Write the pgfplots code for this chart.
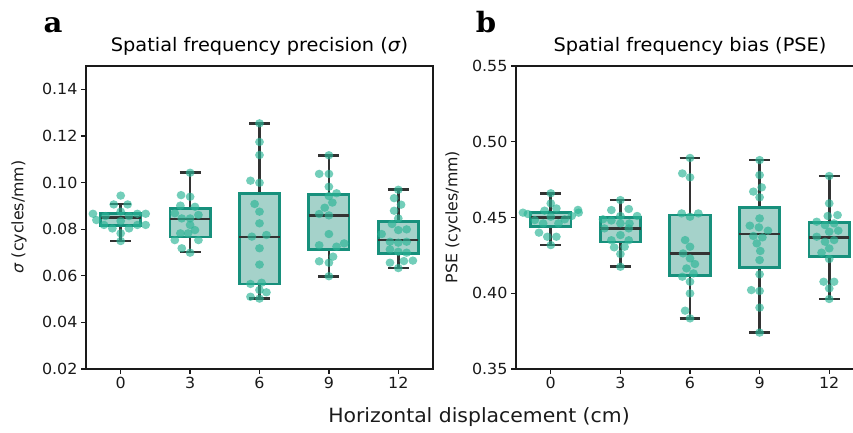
\documentclass[border=0pt]{standalone}
\usepackage{fontspec}
\setmainfont{DejaVu Sans}[FakeStretch=1.04]
\newfontfamily\ylabfont{DejaVu Sans}
\newfontfamily\panelfont{DejaVu Serif}[FakeStretch=1.04]
\usepackage{pgfplots}
\pgfplotsset{compat=1.18}
\usepgfplotslibrary{statistics}
\definecolor{boxedge}{HTML}{17907C}
\definecolor{boxfill}{HTML}{A5D2CA}
\definecolor{ptc}{HTML}{2BB596}
\definecolor{wcol}{HTML}{333333}
\definecolor{axc}{HTML}{1A1A1A}
\newcommand\tickfont{\fontsize{15.3}{17}\selectfont}
\newcommand\titlefont{\fontsize{18.6}{21}\selectfont}
\pgfplotsset{
  boxplot/draw direction=y,
  boxplot/every box/.style={draw=boxedge, fill=boxfill, line width=2.7pt},
  boxplot/every whisker/.style={draw=wcol, line width=2.7pt},
  boxplot/every median/.style={draw=wcol, line width=2.7pt},
  myaxis/.style={
    scale only axis, anchor=south west,
    height=303pt,
    xmin=-0.5, xmax=4.5,
    xtick={0,1,2,3,4}, xticklabels={0,3,6,9,12},
    tick align=outside, tick pos=left, major tick length=5pt,
    axis line style={line width=1.25pt, axc},
    every tick/.style={line width=1.25pt, axc},
    ticklabel style={font=\tickfont, text=axc},
    title style={font=\titlefont, at={(0.5,1)}, anchor=base, yshift=8pt},
    clip=false,
  },
  pts/.style={only marks, mark=*, mark size=4.2pt, color=ptc,
    fill opacity=0.66, draw opacity=0,
    mark options={draw=ptc, fill=ptc, fill opacity=0.66, draw opacity=0, xscale=1.05}},
}
\begin{document}
\begin{tikzpicture}
% ---------------- panel a ----------------
\begin{axis}[myaxis, at={(86pt,64pt)}, width=347pt,
  ymin=0.02, ymax=0.15,
  ytick={0.02,0.04,0.06,0.08,0.10,0.12,0.14},
  yticklabels={0.02,0.04,0.06,0.08,0.10,0.12,0.14},
  title={Spatial frequency precision (\textit{σ})}]
\addplot[boxplot prepared={draw position=0, lower whisker=0.0749, lower quartile=0.0815, median=0.0849, upper quartile=0.0868, upper whisker=0.0908, box extend=0.58, whisker extend=0.3}] coordinates {};
\addplot[boxplot prepared={draw position=1, lower whisker=0.0702, lower quartile=0.0766, median=0.0844, upper quartile=0.0889, upper whisker=0.1042, box extend=0.58, whisker extend=0.3}] coordinates {};
\addplot[boxplot prepared={draw position=2, lower whisker=0.0502, lower quartile=0.0565, median=0.0766, upper quartile=0.0954, upper whisker=0.1254, box extend=0.58, whisker extend=0.3}] coordinates {};
\addplot[boxplot prepared={draw position=3, lower whisker=0.0598, lower quartile=0.0712, median=0.0859, upper quartile=0.0949, upper whisker=0.1117, box extend=0.58, whisker extend=0.3}] coordinates {};
\addplot[boxplot prepared={draw position=4, lower whisker=0.0633, lower quartile=0.0696, median=0.0753, upper quartile=0.0833, upper whisker=0.0969, box extend=0.58, whisker extend=0.3}] coordinates {};
\addplot[pts] table {
x y
-0.40 0.0866
0 0.0944
-0.10 0.0906
0.10 0.0906
-0.35 0.0839
-0.24 0.0818
-0.12 0.0803
0 0.0835
0.12 0.0803
0.24 0.0818
0.36 0.0818
0.36 0.0866
0.24 0.0866
0 0.0782
0 0.0749
-0.22 0.0856
0.12 0.0856
0 0.0875
1 0.1042
0.87 0.0946
1 0.0939
0.86 0.0901
1.07 0.0896
1 0.0846
1.12 0.0861
0.78 0.0868
0.88 0.0846
1.07 0.0796
0.97 0.0782
0.86 0.0782
0.78 0.0753
1.12 0.0753
0.88 0.0718
1 0.0699
1 0.0818
2 0.1254
2 0.1174
2 0.1118
1.87 0.1008
2 0.0999
1.93 0.0908
2 0.0875
2 0.0825
2.10 0.0775
1.89 0.0768
2 0.0718
2 0.0648
1.87 0.0565
2.03 0.0570
2.10 0.0529
2 0.0502
1.87 0.0510
2 0.0539
3 0.1117
2.86 0.1037
3 0.1037
3 0.0982
3.11 0.0954
3 0.0942
3.05 0.0914
2.94 0.0892
2.86 0.0865
3 0.0859
3 0.0779
2.86 0.0731
3.11 0.0725
3.22 0.0739
3.06 0.0682
2.86 0.0662
3 0.0656
3 0.0598
4 0.0969
3.94 0.0933
4.04 0.0905
3.94 0.0879
4 0.0846
3.91 0.0822
4.12 0.0799
4 0.0796
3.76 0.0779
3.88 0.0746
4 0.0742
4.12 0.0746
3.88 0.0713
4 0.0703
4.12 0.0699
3.88 0.0656
4.08 0.0663
4.21 0.0665
4 0.0633
};
\end{axis}
% ---------------- panel b ----------------
\begin{axis}[myaxis, at={(516pt,64pt)}, width=348pt,
  ymin=0.35, ymax=0.55,
  ytick={0.35,0.40,0.45,0.50,0.55},
  yticklabels={0.35,0.40,0.45,0.50,0.55},
  title={Spatial frequency bias (PSE)}]
\addplot[boxplot prepared={draw position=0, lower whisker=0.4318, lower quartile=0.4439, median=0.4501, upper quartile=0.4534, upper whisker=0.4659, box extend=0.58, whisker extend=0.3}] coordinates {};
\addplot[boxplot prepared={draw position=1, lower whisker=0.4175, lower quartile=0.4338, median=0.4428, upper quartile=0.4501, upper whisker=0.4615, box extend=0.58, whisker extend=0.3}] coordinates {};
\addplot[boxplot prepared={draw position=2, lower whisker=0.3834, lower quartile=0.4116, median=0.4263, upper quartile=0.4516, upper whisker=0.4893, box extend=0.58, whisker extend=0.3}] coordinates {};
\addplot[boxplot prepared={draw position=3, lower whisker=0.3740, lower quartile=0.4171, median=0.4391, upper quartile=0.4565, upper whisker=0.4879, box extend=0.58, whisker extend=0.3}] coordinates {};
\addplot[boxplot prepared={draw position=4, lower whisker=0.3962, lower quartile=0.4241, median=0.4369, upper quartile=0.4468, upper whisker=0.4774, box extend=0.58, whisker extend=0.3}] coordinates {};
\addplot[pts] table {
x y
0 0.466
-0.40 0.4532
-0.33 0.4523
0 0.4593
0.08 0.456
0.39 0.455
0.40 0.4532
0.30 0.451
0.20 0.4488
0.11 0.4461
-0.17 0.440
-0.05 0.4373
0.08 0.4373
0 0.4318
-0.23 0.4483
-0.11 0.4461
0 0.4505
-0.09 0.4545
1 0.4615
0.87 0.4549
1.12 0.4556
0.75 0.4488
0.87 0.448
1 0.451
1.24 0.451
1.13 0.4461
1 0.4461
1 0.4384
0.87 0.435
1.12 0.435
0.91 0.4303
1.06 0.4307
1 0.4259
1 0.4175
0.77 0.4428
1.12 0.4428
2 0.4893
1.89 0.4791
2 0.4765
1.88 0.4527
2 0.4505
2.12 0.4527
1.93 0.4351
2 0.4307
1.90 0.4263
2 0.423
2.07 0.4193
1.95 0.4164
2.05 0.4131
1.89 0.4109
2 0.4076
2 0.3999
1.93 0.3885
2 0.3834
3 0.4879
3 0.478
3.03 0.4699
2.91 0.4671
3 0.4633
3 0.4494
2.86 0.4446
2.99 0.4435
3.12 0.4413
2.91 0.4378
3.04 0.4369
2.96 0.4329
3.01 0.4279
3 0.4219
3 0.4125
2.88 0.4021
3 0.4015
3 0.3905
3 0.374
4 0.4774
4 0.4593
3.98 0.451
4.12 0.4516
3.82 0.4472
3.94 0.445
4.07 0.4461
4 0.4406
3.82 0.4373
4.13 0.4413
3.94 0.434
4.07 0.4351
4 0.4296
3.89 0.4268
4 0.4226
3.92 0.4076
4.07 0.4076
4 0.4032
4 0.3962
};
\end{axis}
% labels
\node[rotate=90, font=\ylabfont\fontsize{15.8}{18}\selectfont, text=axc] at (19pt,216pt) {\textit{σ} (cycles/mm)};
\node[rotate=90, font=\ylabfont\fontsize{15.8}{18}\selectfont, text=axc] at (453pt,216pt) {PSE (cycles/mm)};
\node[anchor=base, font=\fontsize{19.6}{22}\selectfont, text=axc] at (479pt,10pt) {Horizontal displacement (cm)};
\node[anchor=base, font=\panelfont\bfseries\fontsize{28}{30}\selectfont] at (53pt,400pt) {a};
\node[anchor=base, font=\panelfont\bfseries\fontsize{28}{30}\selectfont] at (486pt,400pt) {b};
\pgfresetboundingbox
\path[use as bounding box] (0,0) rectangle (853pt,433pt);
\end{tikzpicture}
\end{document}
